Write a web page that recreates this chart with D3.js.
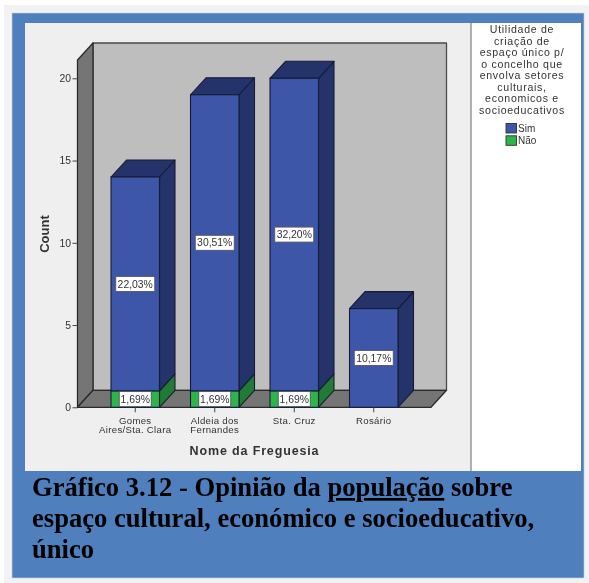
<!DOCTYPE html>
<html>
<head>
<meta charset="utf-8">
<script src="https://cdn.jsdelivr.net/npm/d3@7"></script>
<style>
html,body{margin:0;padding:0;background:#fff;overflow:hidden}
svg{display:block}
text{font-family:"Liberation Sans",Arial,sans-serif;fill:#333}
.cap{font-family:"Liberation Serif","Times New Roman",serif;font-weight:700;font-size:26.6px;fill:#000}
</style>
</head>
<body>
<svg id="c" width="589" height="583"></svg>
<script>
const categories = [["Gomes","Aires/Sta. Clara"],["Aldeia dos","Fernandes"],["Sta. Cruz"],["Rosário"]];
const sim = [13, 18, 19, 6];
const nao = [1, 1, 1, 0];
const simLabels = ["22,03%","30,51%","32,20%","10,17%"];
const naoLabels = ["1,69%","1,69%","1,69%",""];
const yTicks = [0,5,10,15,20];
const legendTitle = ["Utilidade de","criação de","espaço único p/","o concelho que","envolva setores","culturais,","economicos e","socioeducativos"];
const legendItems = ["Sim","Não"];
const colors = {Sim:["#3d56a8","#243369"],Não:["#2db54a","#217a35"]};

const svg = d3.select("#c");
const rect=(g,x,y,w,h,f)=>g.append("rect").attr("x",x).attr("y",y).attr("width",w).attr("height",h).attr("fill",f);

// page & panels
rect(svg,4,5,585,578,"#f2f2f2");
rect(svg,12,13,572,565,"#4f7fbd").attr("stroke","#c4d3e6").attr("stroke-width",.6);
rect(svg,25,23,446,448,"#efefef");
rect(svg,471,23,110,448,"#fff");
svg.append("line").attr("x1",471).attr("x2",471).attr("y1",23).attr("y2",471).attr("stroke","#555").attr("stroke-width",.9);

const g = svg.append("g").style("filter","blur(0.45px)");

const y = d3.scaleLinear().domain([0,20]).range([407.3,78.3]);
const x = d3.scaleBand().domain(categories.map((d,i)=>i)).range([111,398]).paddingInner(.39).paddingOuter(0);
const dx = 15.5, dy = -17;
const wallL = 77.5, wallR = 431, wallTop = 60;
const poly=(pts,f,s="#222",sw=1)=>g.append("polygon").attr("points",pts.map(p=>p.join(",")).join(" ")).attr("fill",f).attr("stroke",s).attr("stroke-width",sw).attr("stroke-linejoin","round");

// 3D walls
poly([[wallL+dx,wallTop+dy],[wallR+dx,wallTop+dy],[wallR+dx,y(0)+dy],[wallL+dx,y(0)+dy]],"#bebebe","#4a4a4a",1.3);
poly([[wallL,wallTop],[wallL+dx,wallTop+dy],[wallL+dx,y(0)+dy],[wallL,y(0)]],"#757575","#2a2a2a",1.3);
poly([[wallL,y(0)],[wallL+dx,y(0)+dy],[wallR+dx,y(0)+dy],[wallR,y(0)]],"#757575","#2a2a2a",1.3);

// stacked bars
function box(xl,w,v0,v1,c,top){
  const yb=y(v0), yt=y(v1);
  poly([[xl+w,yb],[xl+w+dx,yb+dy],[xl+w+dx,yt+dy],[xl+w,yt]],c[1],"#161c36",1.1);
  if(top) poly([[xl,yt],[xl+dx,yt+dy],[xl+w+dx,yt+dy],[xl+w,yt]],c[1],"#161c36",1.1);
  g.append("rect").attr("x",xl).attr("y",yt).attr("width",w).attr("height",yb-yt).attr("fill",c[0]).attr("stroke","#161c36").attr("stroke-width",1.1);
}
function label(cx,cy,t,w,h){
  g.append("rect").attr("x",cx-w/2).attr("y",cy-h/2).attr("width",w).attr("height",h).attr("fill","#fff").attr("stroke","#556").attr("stroke-width",.9);
  g.append("text").attr("x",cx).attr("y",cy+3.6).attr("text-anchor","middle").attr("font-size",10.4).attr("fill","#222").text(t);
}
categories.forEach((c,i)=>{
  const xl=x(i), w=x.bandwidth();
  if(nao[i]>0) box(xl,w,0,nao[i],colors["Não"],false);
  box(xl,w,nao[i],nao[i]+sim[i],colors.Sim,true);
});
categories.forEach((c,i)=>{
  const cx=x(i)+x.bandwidth()/2;
  label(cx,y(nao[i]+sim[i]/2),simLabels[i],39,15);
  if(nao[i]>0) label(cx,y(nao[i]/2),naoLabels[i],32,15);
});

// y axis
const ya = g.append("g").attr("transform",`translate(${wallL},0)`).call(d3.axisLeft(y).tickValues(yTicks).tickSize(5).tickPadding(1.5));
ya.select(".domain").remove();
ya.selectAll("line").attr("stroke","#444");
ya.selectAll("text").attr("font-size",10.4).attr("fill","#333").style("font-family",'"Liberation Sans",Arial,sans-serif');

// x axis
const xa = g.append("g").attr("transform",`translate(0,${y(0)})`).call(d3.axisBottom(x).tickSize(5).tickFormat(""));
xa.select(".domain").remove();
xa.selectAll("line").attr("stroke","#444");
categories.forEach((c,i)=>{
  const t = g.append("text").attr("y",423.6).attr("text-anchor","middle").attr("font-size",9.6).attr("letter-spacing",.32);
  c.forEach((l,j)=>t.append("tspan").attr("x",x(i)+x.bandwidth()/2).attr("dy",j?9.4:0).text(l));
});

// axis titles
g.append("text").attr("transform","translate(49,234) rotate(-90)").attr("text-anchor","middle").attr("font-size",13).attr("font-weight",700).attr("fill","#222").text("Count");
g.append("text").attr("x",254.5).attr("y",455).attr("text-anchor","middle").attr("font-size",12.5).attr("font-weight",700).attr("letter-spacing",.85).attr("fill","#222").text("Nome da Freguesia");

// legend
legendTitle.forEach((l,i)=>g.append("text").attr("x",522).attr("y",33+i*11.55).attr("text-anchor","middle").attr("font-size",10.6).attr("letter-spacing",.7).text(l));
legendItems.forEach((l,i)=>{
  rect(g,506,123.5+i*12.3,10.5,9.5,colors[l][0]).attr("stroke","#333").attr("stroke-width",.9);
  g.append("text").attr("x",518).attr("y",132+i*12.3).attr("font-size",10).text(l);
});

// caption
const cap = svg.append("g").style("filter","blur(0.3px)");
cap.append("text").attr("class","cap").attr("x",32).attr("y",496)
  .call(t=>{t.append("tspan").text("Gráfico 3.12 - Opinião da ");t.append("tspan").attr("text-decoration","underline").text("população");t.append("tspan").text(" sobre");});
cap.append("text").attr("class","cap").attr("x",32).attr("y",527).text("espaço cultural, económico e socioeducativo,");
cap.append("text").attr("class","cap").attr("x",32).attr("y",558).text("único");
</script>
</body>
</html>
